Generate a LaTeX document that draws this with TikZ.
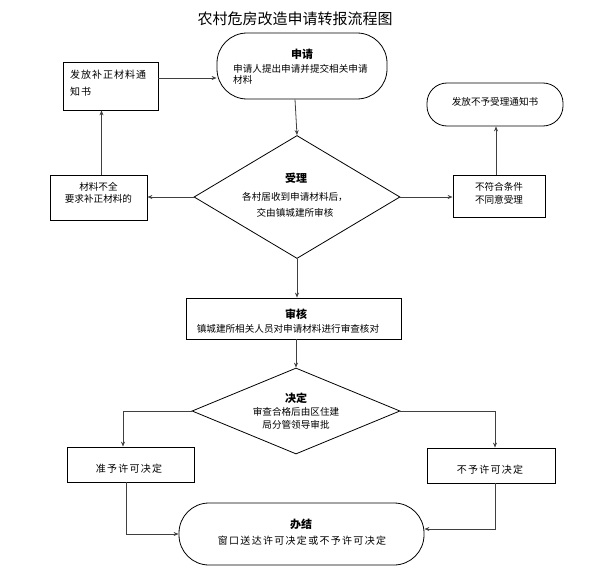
\documentclass[tikz,border=0pt]{standalone}
\usepackage{fontspec}
\setmainfont{Noto Sans CJK SC}
\usetikzlibrary{shapes.geometric,arrows.meta}
\begin{document}
\begin{tikzpicture}[x=1pt,y=-1pt,
  box/.style={draw=black,line width=0.8pt,inner sep=0pt},
  dia/.style={draw=black,diamond,line width=0.8pt,inner sep=0pt},
  txt/.style={font=\fontsize{9.6}{12}\selectfont,inner sep=0pt,align=center},
  wide/.style={font=\fontsize{10}{12}\selectfont\addfontfeature{LetterSpace=13},inner sep=0pt,align=left},
  hd/.style={font=\fontsize{11}{13}\selectfont\bfseries,inner sep=0pt},
  arr/.style={draw=black!75,line width=0.8pt,-{Stealth[length=5pt,width=4pt]}},
  ln/.style={draw=black!75,line width=0.8pt}]
\useasboundingbox (0,0) rectangle (598,570);
% title
\node[font=\fontsize{15}{18}\selectfont,inner sep=0pt] (title) at (295,19) {农村危房改造申请转报流程图};
% application
\node[box,rounded corners=30pt,minimum width=170pt,minimum height=66pt] (app) at (302,66) {};
\node[hd] (appH) at (302,54) {申请};
\node[txt,align=left,anchor=west,font=\fontsize{9.6}{11.5}\selectfont] (appT) at (233,74.5) {申请人提出申请并提交相关申请\\材料};
% top-left notice
\node[box,minimum width=95pt,minimum height=48pt] (tl) at (110.5,86) {};
\node[wide,anchor=west,font=\fontsize{10}{17}\selectfont\addfontfeature{LetterSpace=10}] (tlT) at (70,83.5) {发放补正材料通\\知书};
% top-right notice
\node[box,rounded corners=20pt,minimum width=136pt,minimum height=43pt] (tr) at (495,104.5) {};
\node[txt] (trT) at (495,102) {发放不予受理通知书};
% diamond 1
\node[dia,minimum width=206pt,minimum height=123pt] (d1) at (297,197) {};
\node[hd] (d1H) at (296,178) {受理};
\node[txt,font=\fontsize{9.6}{16}\selectfont] (d1T) at (295,205) {各村居收到申请材料后，\\交由镇城建所审核};
% left / right boxes
\node[box,minimum width=97pt,minimum height=45pt] (lb) at (98.5,197.5) {};
\node[txt,font=\fontsize{9.6}{12.6}\selectfont] (lbT) at (98.5,193) {材料不全\\要求补正材料的};
\node[box,minimum width=92pt,minimum height=42pt] (rb) at (499,196) {};
\node[txt,font=\fontsize{9.6}{13}\selectfont] (rbT) at (499,193.5) {不符合条件\\不同意受理};
% review
\node[box,minimum width=215pt,minimum height=41pt] (rev) at (293.5,318.5) {};
\node[hd] (revH) at (296,314) {审核};
\node[txt] (revT) at (288,329) {镇城建所相关人员对申请材料进行审查核对};
% diamond 2
\node[dia,minimum width=208pt,minimum height=86pt] (d2) at (296,411) {};
\node[hd] (d2H) at (296,398) {决定};
\node[txt,font=\fontsize{9.6}{13}\selectfont] (d2T) at (296,418.5) {审查合格后由区住建\\局分管领导审批};
% decisions
\node[box,minimum width=127pt,minimum height=35pt] (yes) at (130.5,464.5) {};
\node[wide] (yesT) at (129,469) {准予许可决定};
\node[box,minimum width=128pt,minimum height=35pt] (no) at (491,465.5) {};
\node[wide] (noT) at (490,470) {不予许可决定};
% done
\node[box,rounded corners=30pt,minimum width=245pt,minimum height=62pt] (done) at (301.5,534) {};
\node[hd] (doneH) at (301,524) {办结};
\node[wide] (doneT) at (302,541) {窗口送达许可决定或不予许可决定};
% connectors
\draw[arr] ([yshift=8pt]tl.east) -- ([yshift=8pt]tl.east -| app.west);
\draw[arr] ([xshift=-7pt]app.south) -- (d1.north);
\draw[arr] (d1.west) -- (d1.west -| lb.east);
\draw[arr] (d1.east) -- (d1.east -| rb.west);
\draw[arr] ([xshift=3pt]lb.north) -- ([xshift=3pt]lb.north |- tl.south);
\draw[arr] ([xshift=-3pt]rb.north) -- ([xshift=-3pt]rb.north |- tr.south);
\draw[arr] (d1.south) -- (d1.south |- rev.north);
\draw[arr] (d2.north |- rev.south) -- (d2.north);
\draw[arr] (d2.west) -| ([xshift=-7.5pt]yes.north);
\draw[arr] (d2.east) -| ([xshift=4pt]no.north);
\draw[arr] ([xshift=-4.5pt]yes.south) |- (done.west);
\draw[arr] ([xshift=4pt]no.south) |- ([yshift=5pt]done.east);
\end{tikzpicture}
\end{document}
